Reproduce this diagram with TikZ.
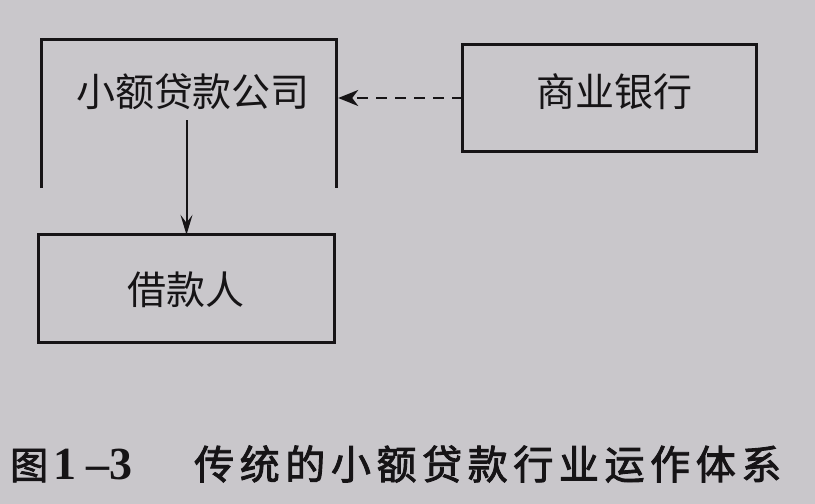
\documentclass[tikz,border=0pt]{standalone}
\usepackage{fontspec}
\usetikzlibrary{arrows.meta}
\newfontfamily\cjk{Noto Sans CJK SC}
\newfontfamily\cjkb[FakeBold=2.2]{Noto Sans CJK SC}
\newfontfamily\numfont{Liberation Serif}
\definecolor{bg}{RGB}{201,199,203}
\definecolor{ink}{RGB}{22,20,22}
\begin{document}
\begin{tikzpicture}[x=1pt,y=1pt,
  frame/.style={draw=ink,line width=2.8pt},
  lbl/.style={font=\cjk\fontsize{39}{42}\selectfont,text=ink,inner sep=4pt},
  boxnode/.style={draw=none,rectangle,inner sep=0pt},
  conn/.style={draw=ink,line width=2pt}]
\useasboundingbox (0,0) rectangle (815,-504);
\fill[bg] (0,0) rectangle (815,-504);
% open frame of the top-left box
\node[boxnode,minimum width=294pt,minimum height=148pt] (Abox) at (189,-114) {};
\draw[frame] (Abox.south west) -- (Abox.north west) -- (Abox.north east) -- (Abox.south east);
\node[lbl] (A) at (193,-92) {小额贷款公司};
% right box
\node[boxnode,minimum width=293pt,minimum height=106pt] (Bbox) at (609.5,-98) {};
\draw[frame] (Bbox.south west) rectangle (Bbox.north east);
\node[lbl] (B) at (614,-92) {商业银行};
% bottom box
\node[boxnode,minimum width=295pt,minimum height=107pt] (Cbox) at (186.5,-288.5) {};
\draw[frame] (Cbox.south west) rectangle (Cbox.north east);
\node[lbl] (C) at (186,-290) {借款人};
% connectors
\coordinate (Aright) at (Abox.east |- Bbox.west);
\draw[conn,dash pattern=on 11pt off 8pt,-{Stealth[length=20pt,width=16pt,inset=6pt]}] (Bbox.west) -- ([xshift=2pt]Aright);
\draw[conn,-{Stealth[length=20pt,width=12pt,inset=8pt]}] ([yshift=-6pt]A.south -| Cbox.north) -- (Cbox.north);
% caption
\node[anchor=west,inner sep=0pt,text=ink] (cap) at (10,-464)
 {{\cjkb\fontsize{38}{40}\selectfont 图}\hspace{5pt}{\numfont\bfseries\fontsize{46}{46}\selectfont 1\hspace{10pt}–3}\hspace{62pt}{\cjkb\fontsize{40}{42}\selectfont\addfontfeatures{LetterSpace=14}传统的小额贷款行业运作体系}};
\end{tikzpicture}
\end{document}
